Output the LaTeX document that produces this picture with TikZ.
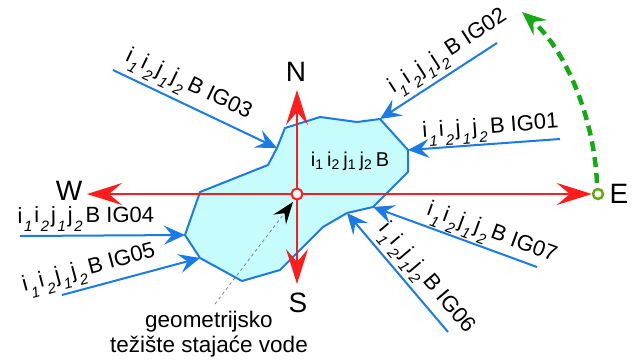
\documentclass[tikz,border=0pt]{standalone}
\usepackage{fontspec}
\setmainfont{Liberation Sans}
\usetikzlibrary{arrows.meta}

\definecolor{lake}{RGB}{198,252,252}
\definecolor{inflow}{RGB}{26,122,230}
\definecolor{axis}{RGB}{255,28,28}
\definecolor{turn}{RGB}{20,170,20}
\definecolor{eastmark}{RGB}{95,170,20}

% tag of an inflow: i1 i2 j1 j2 B IGxx with low italic indices
\newcommand{\igsub}[1]{\raisebox{-9pt}{\fontsize{15}{15}\selectfont\itshape #1}}
\newcommand{\igtag}[1]{i\kern1.5pt\igsub{1}\kern2pt i\kern1.5pt\igsub{2}\kern2pt j\kern1.5pt\igsub{1}\kern2pt j\kern1.5pt\igsub{2}\kern3pt B IG0#1}
% indices of the lake label
\newcommand{\lksub}[1]{\raisebox{-3.5pt}{\fontsize{14}{14}\selectfont #1}}

\begin{document}
\begin{tikzpicture}[x=1pt,y=-1pt,
  lakeshape/.style={draw=inflow, fill=lake, line width=2pt, line join=round},
  flowL/.style={draw=inflow, line width=2pt, {Stealth[length=21pt,width=19pt,inset=8pt]}-},
  flowR/.style={draw=inflow, line width=2pt, -{Stealth[length=21pt,width=19pt,inset=8pt]}},
  tag/.style={font=\fontsize{22}{22}\selectfont, inner sep=0pt, sloped, above=1pt},
  axisarrow/.style={draw=axis, line width=2pt, -{Stealth[length=35pt,width=22pt,inset=13pt]}},
  compass/.style={font=\fontsize{28}{28}\selectfont, inner sep=0pt},
  turnarc/.style={draw=turn, line width=4.5pt, dash pattern=on 10pt off 6pt,
    -{Stealth[length=24pt,width=20pt,inset=9pt]}},
  pointer/.style={draw=gray, line width=0.8pt, dash pattern=on 3pt off 3pt,
    -{Stealth[black,length=22pt,width=16pt,inset=8pt]}}
]
\useasboundingbox (0,0) rectangle (635,360);

% outline of the standing water
\coordinate (p1) at (277,148);
\coordinate (p2) at (285,128);
\coordinate (p3) at (320,117);
\coordinate (p4) at (357,122);
\coordinate (p5) at (380,119);
\coordinate (p6) at (408,150);
\coordinate (p7) at (408,172);
\coordinate (p8) at (373,207);
\coordinate (p9) at (347,213);
\coordinate (p10) at (323,227);
\coordinate (p11) at (280,270);
\coordinate (p12) at (242,281);
\coordinate (p13) at (200,258);
\coordinate (p14) at (185,235);
\coordinate (p15) at (200,192);
\coordinate (p16) at (268,165);
\path[lakeshape] (p1) -- (p2) -- (p3) -- (p4) -- (p5) -- (p6) -- (p7) -- (p8) -- (p9)
  -- (p10) -- (p11) -- (p12) -- (p13) -- (p14) -- (p15) -- (p16) -- cycle;

\node[font=\fontsize{20}{20}\selectfont, inner sep=0pt] (lakename) at (350,161)
  {i\lksub{1}\kern4pt i\lksub{2}\kern4pt j\lksub{1}\kern4pt j\lksub{2}\kern4pt B};

% compass axes
\coordinate (ntip) at (297,90);
\coordinate (stip) at (297,284);
\coordinate (wtip) at (87,194);
\node[circle, draw=eastmark, fill=white, line width=2.5pt, minimum size=10pt, inner sep=0pt] (emark) at (598,194) {};
\draw[axisarrow] (297,194) -- (ntip);
\draw[axisarrow] (297,194) -- (stip);
\draw[axisarrow] (297,194) -- (wtip);
\draw[axisarrow] (297,194) -- (emark.west);
\node[circle, draw=axis, fill=white, line width=2pt, minimum size=11pt, inner sep=0pt] (ctr) at (297,194) {};

\node[compass] (north) at (296,72) {N};
\node[compass] (south) at (298,303) {S};
\node[compass] (west) at (69,191) {W};
\node[compass] (east) at (619,194) {E};

% turning sense towards north
\coordinate (arcstart) at (597,183);
\coordinate (arcend) at (522,12);
\draw[turnarc] (arcstart) .. controls (594,118) and (566,50) .. (arcend);

% inflows
\coordinate (o1) at (560,139);
\coordinate (o2) at (497,43);
\coordinate (o3) at (113,70);
\coordinate (o4) at (20,236);
\coordinate (o5) at (62,295);
\coordinate (o6) at (448,332);
\coordinate (o7) at (537,267);
\draw[flowL] (p6) -- node[tag, pos=0.55] (t1) {\igtag{1}} (o1);
\draw[flowL] (p5) -- node[tag, pos=0.67, above=3pt] (t2) {\igtag{2}} (o2);
\draw[flowR] (o3) -- node[tag, pos=0.41, above=3pt] (t3) {\igtag{3}} (p1);
\draw[flowR] (o4) -- node[tag, pos=0.40, above=2pt] (t4) {\igtag{4}} (p14);
\draw[flowR] (o5) -- node[tag, pos=0.23, above=2pt] (t5) {\igtag{5}} (p13);
\draw[flowL] (p9) -- node[tag, pos=0.65, above=2pt] (t6) {\igtag{6}} (o6);
\draw[flowL] (p8) -- node[tag, pos=0.69, above=0pt] (t7) {\igtag{7}} (o7);

% centroid note
\node[font=\fontsize{22.5}{25}\selectfont, align=center, inner sep=0pt] (note) at (209,334)
  {geometrijsko\\težište stajaće vode};
\coordinate (ptail) at (215,304);
\coordinate (phead) at (293,202);
\draw[pointer] (ptail) -- (phead);
\end{tikzpicture}
\end{document}
